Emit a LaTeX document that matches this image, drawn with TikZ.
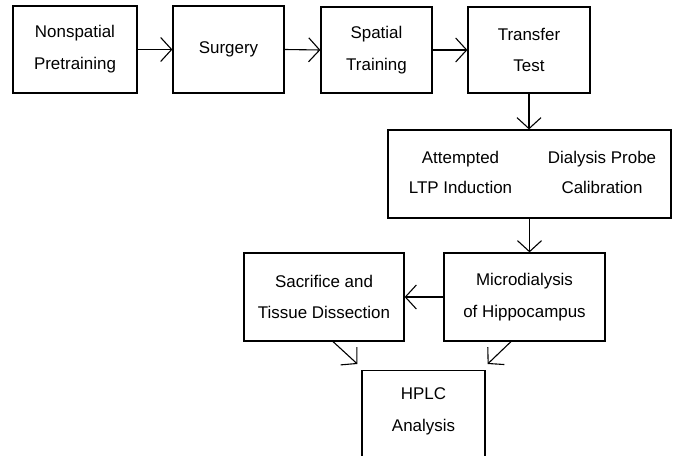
\documentclass[tikz,border=0pt]{standalone}
\usepackage{fontspec}
\setmainfont{Liberation Sans}
\usetikzlibrary{arrows.meta}
\begin{document}
\begin{tikzpicture}[x=1bp,y=-1bp,
  box/.style={draw, line width=1.2bp, inner sep=0pt, align=center,
    font=\fontsize{17}{32}\selectfont},
  lbl/.style={inner sep=0pt, align=center, font=\fontsize{17}{31}\selectfont},
  arr/.style={line width=1.1bp, -{Straight Barb[length=11bp,width=24bp,line width=1.1bp]}}]
\useasboundingbox (0,0) rectangle (674,456);
\clip (0,0) rectangle (674,456);
\node[box, minimum width=124bp, minimum height=87bp] (b1) at (75,49.5) {Nonspatial\\Pretraining};
\node[box, minimum width=111bp, minimum height=87bp] (b2) at (228.5,49.5) {Surgery};
\node[box, minimum width=111bp, minimum height=86bp] (b3) at (376.5,50) {Spatial\\Training};
\node[box, minimum width=122bp, minimum height=86bp] (b4) at (529,50) {Transfer\\Test};
\node[box, minimum width=283bp, minimum height=88bp] (b5) at (529.5,174) {};
\node[lbl] (t5a) at (460.5,172.5) {Attempted\\LTP Induction};
\node[lbl] (t5b) at (602,172.5) {Dialysis Probe\\Calibration};
\node[box, minimum width=161bp, minimum height=88bp] (b6) at (524.5,297) {Microdialysis\\of Hippocampus};
\node[box, minimum width=160bp, minimum height=88bp] (b7) at (324,297) {Sacrifice and\\Tissue Dissection};
\node[box, minimum width=123bp, minimum height=110bp, anchor=north] (b8) at (423.5,370) {};
\node[lbl, font=\fontsize{17}{32}\selectfont] (t8) at (423.5,411) {HPLC\\Analysis};
\draw[arr] (b1.east) -- (b2.west);
\draw[arr] (b2.east) -- (b3.west);
\draw[arr] (b3.east) -- (b4.west);
\draw[arr] (b4.south) -- (b5.north -| b4.south);
\draw[arr] (b5.south) -- (b6.north -| b5.south);
\draw[arr] (b6.west) -- (b7.east);
\draw[arr] ([xshift=9bp]b7.south) -- ([xshift=-4bp,yshift=6bp]b8.north west);
\draw[arr] ([xshift=-13.5bp]b6.south) -- ([xshift=2bp,yshift=6bp]b8.north east);
\end{tikzpicture}
\end{document}
